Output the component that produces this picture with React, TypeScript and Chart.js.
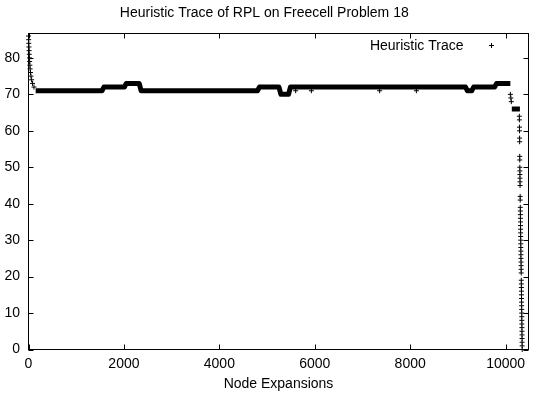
import React, { useEffect, useRef } from "react";
import { Chart, registerables } from "chart.js";

Chart.register(...registerables);

const TITLE = "Heuristic Trace of RPL on Freecell Problem 18";
const X_TITLE = "Node Expansions";
const SERIES_LABEL = "Heuristic Trace";
const X_TICKS = [0, 2000, 4000, 6000, 8000, 10000];
const Y_TICKS = [0, 10, 20, 30, 40, 50, 60, 70, 80];
const X_MAX = 10480;
const Y_MAX = 86.7;

// Long plateaus: first and last node of each run with its heuristic value (null = break)
const plateauX = [150, 1540, 1580, 2010, 2050, 2320, 2360, 4800, 4840, 5250, 5290, 5450, 5490, 9160, 9200, 9290, 9330, 9770, 9810, 10100, 10115, 10130, 10300];
const plateauY = [71, 71, 72, 72, 73, 73, 71, 71, 72, 72, 70, 70, 72, 72, 71, 71, 72, 72, 73, 73, null, 66, 66];

// Initial descent
const startX = [0, 3, 6, 9, 12, 16, 20, 24, 29, 34, 42, 52, 65, 85, 115];
const startY = [86, 85, 84, 83, 82, 81, 80, 79, 78, 77, 76, 75, 74, 73, 72];

// Isolated dips below the 72 plateau
const dipX = [5600, 5930, 7360, 8130];
const dipY = [71, 71, 71, 71];

// Drop after the last plateau
const dropX = [10100, 10110, 10120];
const dropY = [70, 69, 68];

// Final descent to the goal
const finalX = [10288, 10289, 10291, 10292, 10293, 10294, 10296, 10297, 10298, 10299,
  10300, 10301, 10302, 10303, 10305, 10306, 10308, 10309, 10310, 10311,
  10312, 10313, 10314, 10315, 10316, 10317, 10318, 10319, 10320, 10321,
  10322, 10324, 10325, 10326, 10327, 10329, 10330, 10331, 10332, 10333,
  10334, 10335, 10336, 10337, 10338, 10339, 10340, 10341, 10342, 10343,
  10344, 10345, 10346, 10347, 10348];
const finalY = [64, 63, 61, 60, 58, 57, 53, 52, 50, 49,
  48, 47, 46, 45, 42, 41, 39, 38, 37, 36,
  35, 34, 33, 32, 31, 30, 29, 28, 27, 26,
  25, 24, 23, 22, 21, 19, 18, 17, 16, 15,
  14, 13, 12, 11, 10, 9, 8, 7, 6, 5,
  4, 3, 2, 1, 0];

const FONT_FAMILY = "'Liberation Sans', Arial, Helvetica, sans-serif";
const TICK_LEN = 5;

const toPoints = (xs: number[], ys: (number | null)[]) => xs.map((x, i) => ({ x, y: ys[i] }));

const framePlugin = {
  id: "gnuplotFrame",
  beforeDatasetsDraw(chart: any) {
    const { ctx, chartArea } = chart;
    const { left, right, top, bottom } = chartArea;
    const xs = chart.scales.x;
    const ys = chart.scales.y;
    ctx.save();
    ctx.strokeStyle = "#000";
    ctx.lineWidth = 1;
    ctx.beginPath();
    for (const v of X_TICKS) {
      const px = Math.round(xs.getPixelForValue(v)) + 0.5;
      ctx.moveTo(px, bottom);
      ctx.lineTo(px, bottom - TICK_LEN);
      ctx.moveTo(px, top);
      ctx.lineTo(px, top + TICK_LEN);
    }
    for (const v of Y_TICKS) {
      const py = Math.round(ys.getPixelForValue(v)) + 0.5;
      ctx.moveTo(left, py);
      ctx.lineTo(left + TICK_LEN, py);
      ctx.moveTo(right, py);
      ctx.lineTo(right - TICK_LEN, py);
    }
    ctx.stroke();
    ctx.strokeRect(left, top, right - left, bottom - top);
    ctx.restore();
  },
  afterDraw(chart: any) {
    const { ctx } = chart;
    ctx.save();
    ctx.fillStyle = "#000";
    ctx.font = `14px ${FONT_FAMILY}`;
    ctx.textAlign = "right";
    ctx.textBaseline = "alphabetic";
    ctx.fillText(SERIES_LABEL, 463.5, 50);
    ctx.strokeStyle = "#000";
    ctx.lineWidth = 1;
    ctx.beginPath();
    ctx.moveTo(489, 45.5);
    ctx.lineTo(494, 45.5);
    ctx.moveTo(491.5, 43);
    ctx.lineTo(491.5, 48);
    ctx.stroke();
    ctx.restore();
  },
};

export default function App() {
  const ref = useRef<HTMLCanvasElement | null>(null);

  useEffect(() => {
    document.body.style.margin = "0";
    const canvas = ref.current;
    if (!canvas) return;
    const font = { family: FONT_FAMILY, size: 14, weight: "normal" as const };
    const tracePoints = [
      ...toPoints(startX, startY),
      ...toPoints(dipX, dipY),
      ...toPoints(dropX, dropY),
      ...toPoints(finalX, finalY),
    ];
    const chart = new Chart(canvas, {
      type: "line",
      data: {
        datasets: [
          {
            label: SERIES_LABEL + " (plateau)",
            data: toPoints(plateauX, plateauY) as any,
            borderColor: "#000",
            backgroundColor: "#000",
            borderWidth: 5,
            borderJoinStyle: "round",
            pointRadius: 0,
            tension: 0,
            spanGaps: false,
            fill: false,
          },
          {
            label: SERIES_LABEL,
            data: tracePoints as any,
            showLine: false,
            pointStyle: "cross",
            pointRadius: 2.5,
            pointBorderWidth: 1,
            borderColor: "#000",
            backgroundColor: "#000",
            clip: false as any,
          },
        ],
      },
      options: {
        responsive: false,
        animation: false,
        events: [],
        layout: { padding: { left: 0, right: 7.5, top: 0, bottom: 0 } },
        plugins: {
          legend: { display: false },
          tooltip: { enabled: false },
          title: {
            display: true,
            text: TITLE,
            color: "#000",
            font,
            padding: { top: 5, bottom: 11.7 },
          },
        },
        scales: {
          x: {
            type: "linear",
            min: 0,
            max: X_MAX,
            afterBuildTicks: (s: any) => {
              s.ticks = X_TICKS.map((v) => ({ value: v }));
            },
            afterFit: (s: any) => {
              s.height = 50.5;
            },
            grid: { display: false, drawTicks: false },
            border: { display: false },
            ticks: {
              color: "#000",
              font,
              padding: 6,
              maxRotation: 0,
              autoSkip: false,
              callback: (v: any) => String(v),
            },
            title: {
              display: true,
              text: X_TITLE,
              color: "#000",
              font,
              padding: { top: 0, bottom: 7 },
            },
          },
          y: {
            type: "linear",
            min: 0,
            max: Y_MAX,
            afterBuildTicks: (s: any) => {
              s.ticks = Y_TICKS.map((v) => ({ value: v }));
            },
            afterFit: (s: any) => {
              s.width = 28.5;
            },
            grid: { display: false, drawTicks: false },
            border: { display: false },
            ticks: {
              color: "#000",
              font,
              padding: 8.5,
              autoSkip: false,
              callback: (v: any) => String(v),
            },
          },
        },
      },
      plugins: [framePlugin],
    });
    return () => chart.destroy();
  }, []);

  return <canvas ref={ref} width={536} height={400} style={{ display: "block" }} />;
}
